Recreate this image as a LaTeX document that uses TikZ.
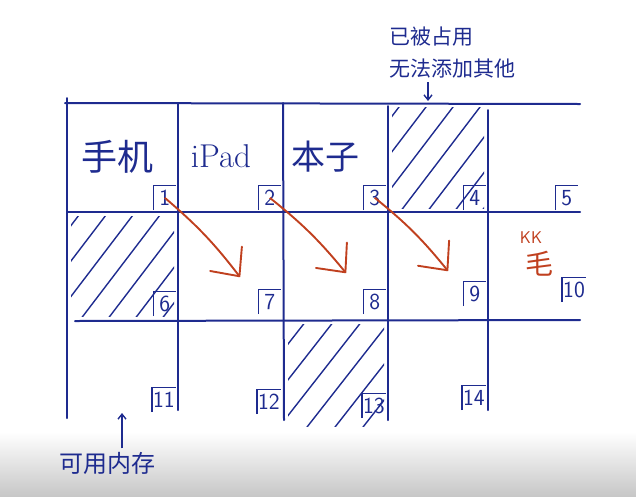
\documentclass[tikz,border=0pt]{standalone}
\usepackage{fontspec}
\newfontfamily\cjk{Noto Sans CJK SC}
\usetikzlibrary{arrows.meta,positioning}
\definecolor{ink}{HTML}{1E2B8F}
\definecolor{redink}{HTML}{C0401F}

\begin{document}
\begin{tikzpicture}[x=1pt, y=-1pt,
        ln/.style={ink, line width=2pt, line cap=round},
        num/.style={ink, font=\sffamily\fontsize{23}{23}\selectfont, inner sep=1pt, minimum width=22pt, minimum height=24pt},
        lbl/.style={ink, font=\cjk\fontsize{21}{32}\selectfont},
        big/.style={ink, font=\cjk\fontsize{36}{38}\selectfont},
        ar/.style={-{Straight Barb[length=5pt, width=8pt]}, ink, line width=1.4pt},
        mv/.style={-{Straight Barb[length=22pt, width=40pt, round]}, redink, line width=1.9pt},
        hatch/.style={ink, line width=1.4pt, line cap=round}
    ]
    \useasboundingbox (0,0) rectangle (636,496);
    \shade[top color=white, bottom color=black!22] (0,432) rectangle (636,496);

    % grid
    \draw[ln] (65,103) -- (580,104);
    \draw[ln] (67,212) -- (580,212);
    \draw[ln] (75,321) -- (580,320);
    \draw[ln] (67,98) -- (67,418);
    \draw[ln] (178,103) -- (178,410);
    \draw[ln] (283,103) -- (284,420);
    \draw[ln] (388,106) -- (388,420);
    \draw[ln] (488,110) -- (488,410);

    % used cells
    \begin{scope}
        \clip (392,107) rectangle (484,208);
        \foreach \k in {-3,...,4} \draw[hatch] (400+\k*27,212) -- ++(80,-105);
    \end{scope}
    \begin{scope}
        \clip (71,216) rectangle (174,316);
        \foreach \k in {-3,...,4} \draw[hatch] (80+\k*27,320) -- ++(80,-105);
    \end{scope}
    \begin{scope}
        \clip (288,324) rectangle (384,426);
        \foreach \k in {-3,...,4} \draw[hatch] (300+\k*28,436) -- ++(90,-115);
    \end{scope}

    % cell numbers
    \foreach \n/\x/\y in {1/176/210, 2/281/210, 3/386/210, 4/486/210, 5/578/210,
                          6/176/316, 7/281/314, 8/386/314, 9/486/306, 10/586/302,
                          11/176/412, 12/281/414, 13/386/418, 14/486/410}
        \node[num, anchor=south east] (n\n) at (\x,\y) {\n};
    \foreach \n in {1,...,14}
        \draw[ink, line width=1.3pt] (n\n.south west) |- (n\n.north east);

    % contents
    \node[big] (phone) at (117,157) {手机};
    \node[ink, font=\fontsize{33}{35}\selectfont] (ipad) at (221,156) {iPad};
    \node[big, font=\cjk\fontsize{34}{36}\selectfont] (book) at (325,157) {本子};
    \node[redink, font=\sffamily\fontsize{17}{17}\selectfont] (kk) at (531,238) {KK};
    \node[redink, font=\cjk\fontsize{28}{30}\selectfont] (mao) at (539,264) {毛};

    % moves
    \coordinate (a1) at (240,277);
    \coordinate (a2) at (346,273);
    \coordinate (a3) at (448,271);
    \draw[mv] (n1.center) to[bend left=6] (a1);
    \draw[mv] (n2.center) to[bend left=6] (a2);
    \draw[mv] (n3.center) to[bend left=6] (a3);

    % notes
    \node[lbl, align=left, anchor=south west] (busy) at (386,82) {已被占用\\无法添加其他};
    \coordinate (top) at (428,101);
    \draw[ar] (busy.south -| top) -- (top);
    \node[lbl, font=\cjk\fontsize{24}{26}\selectfont, anchor=west] (mem) at (56,463) {可用内存};
    \coordinate (free) at (122,413);
    \draw[ar] (mem.north -| free) -- (free);
\end{tikzpicture}
\end{document}
